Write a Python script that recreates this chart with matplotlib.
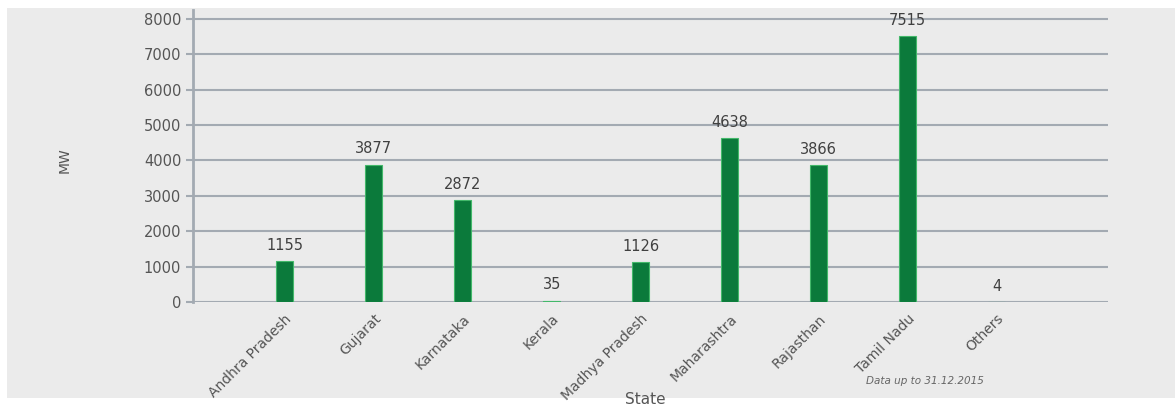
import matplotlib.pyplot as plt
from matplotlib.patches import Rectangle

# Installed wind capacity by state
states = ['Andhra Pradesh', 'Gujarat', 'Karnataka', 'Kerala', 'Madhya Pradesh',
          'Maharashtra', 'Rajasthan', 'Tamil Nadu', 'Others']
mw = [1155, 3877, 2872, 35, 1126, 4638, 3866, 7515, 4]
yticks = [0, 1000, 2000, 3000, 4000, 5000, 6000, 7000, 8000]

fig = plt.figure(figsize=(11.75, 4.05), dpi=100, facecolor='white')
# grey panel behind the chart
fig.add_artist(Rectangle((7 / 1175, 7 / 405), 1 - 7 / 1175, 1 - 15 / 405,
                         transform=fig.transFigure, facecolor='#ebebeb',
                         edgecolor='none', zorder=-10))

ax = fig.add_axes([0.1643, 0.2543, 0.7787, 0.721])
ax.set_facecolor('none')

x = range(len(states))
ax.bar(x, mw, width=0.19, color='#0b7a3b', edgecolor='#43b86a',
       linewidth=0.8, zorder=3)
for i, v in zip(x, mw):
    ax.annotate(str(v), (i, v), xytext=(0, 6), textcoords='offset points',
                ha='center', va='bottom', fontsize=10.5, color='#404040')

ax.set_xlim(-1.03, 9.25)
ax.set_ylim(0, 8250)
ax.set_yticks(yticks)
ax.set_yticklabels([str(t) for t in yticks], fontsize=10.5, color='#555555')
ax.yaxis.grid(True, color='#a3aab2', linewidth=1.5, zorder=1)
ax.set_axisbelow(True)
ax.tick_params(axis='y', length=5, color='#a3aab2', width=1.5)

ax.set_xticks(list(x))
ax.set_xticklabels(states, rotation=45, ha='right', rotation_mode='anchor',
                   fontsize=10, color='#555555')
ax.tick_params(axis='x', length=0, pad=7)

for s in ['top', 'right', 'bottom']:
    ax.spines[s].set_visible(False)
ax.spines['left'].set_color('#a3aab2')
ax.spines['left'].set_linewidth(2)

fig.text(65 / 1175, 1 - 160 / 405, 'MW', rotation=90, ha='center', va='center',
         fontsize=10, color='#555555')
fig.text(645 / 1175, 1 - 399 / 405, 'State', ha='center', va='center',
         fontsize=11, color='#555555')
fig.text(925 / 1175, 1 - 381 / 405, 'Data up to 31.12.2015', ha='center',
         va='center', fontsize=7.5, style='italic', color='#666666')

fig.savefig('out.png', dpi=100)
